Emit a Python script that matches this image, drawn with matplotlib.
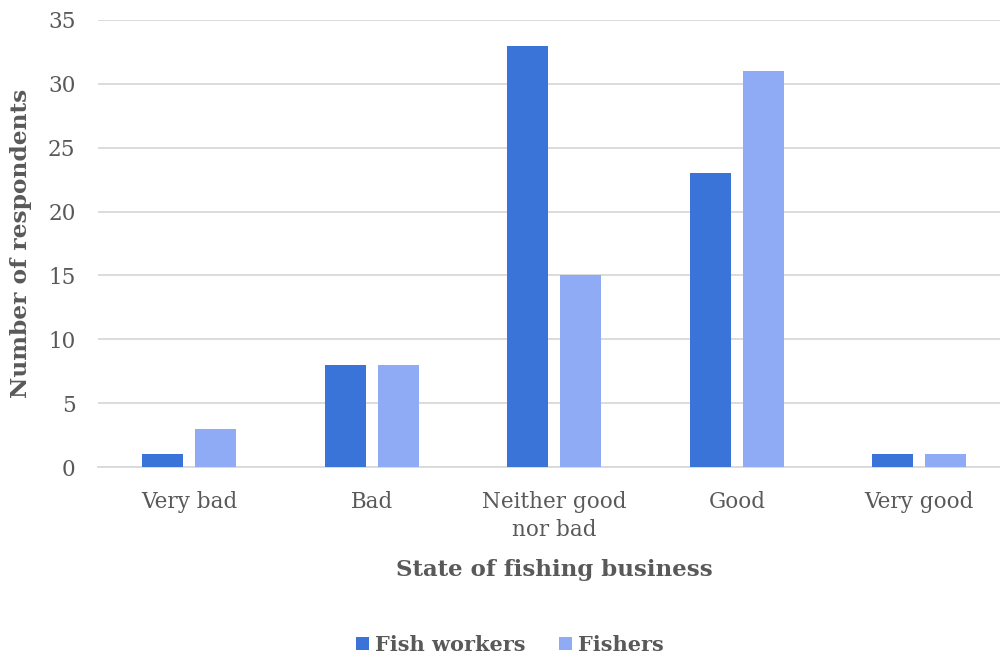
import matplotlib
matplotlib.use("Agg")
import matplotlib.pyplot as plt
import numpy as np

categories = ["Very bad", "Bad", "Neither good\nnor bad", "Good", "Very good"]
fish_workers = [1, 8, 33, 23, 1]
fishers = [3, 8, 15, 31, 1]
yticks = [0, 5, 10, 15, 20, 25, 30, 35]

dark_blue = "#3A74D8"
light_blue = "#8FABF6"
text_grey = "#595959"

plt.rcParams["font.family"] = ["DejaVu Serif"]

fig = plt.figure(figsize=(10, 6.59), dpi=100)
ax = fig.add_axes([0.0977, 1 - 467 / 659, 0.913, 447 / 659])

x = np.arange(len(categories))
w = 0.225
off = 0.145
ax.bar(x - off, fish_workers, w, color=dark_blue, label="Fish workers", zorder=3)
ax.bar(x + off, fishers, w, color=light_blue, label="Fishers", zorder=3)

ax.set_xlim(-0.5, len(categories) - 0.5)
ax.set_ylim(0, 35)
ax.set_yticks(yticks)
ax.grid(axis="y", color="#D9D9D9", linewidth=1.3, zorder=0)
ax.set_axisbelow(True)
for s in ["top", "right", "left"]:
    ax.spines[s].set_visible(False)
ax.spines["bottom"].set_color("#D9D9D9")
ax.spines["bottom"].set_linewidth(1.3)
ax.tick_params(axis="both", length=0, colors=text_grey, labelsize=15.5)
ax.tick_params(axis="y", pad=16)
ax.tick_params(axis="x", pad=17)
ax.set_xticks(x)
ax.set_xticklabels(categories, linespacing=1.35)

ax.set_ylabel("Number of respondents", fontsize=16.8, fontweight="bold",
              color=text_grey)
ax.yaxis.set_label_coords(-(97.7 - 32) / 913, (467 - 243) / 447)
ax.set_xlabel("State of fishing business", fontsize=16.5, fontweight="bold",
              color=text_grey)
ax.xaxis.set_label_coords((554 - 97.7) / 913, -(559 - 467) / 447)

leg = fig.legend(loc="center", bbox_to_anchor=(0.51, 1 - 645 / 659), ncol=2,
                 frameon=False, fontsize=15, handlelength=0.6, handleheight=0.6,
                 columnspacing=1.6, handletextpad=0.3)
for t in leg.get_texts():
    t.set_color(text_grey)
    t.set_fontweight("heavy")

fig.savefig("out.png", dpi=100)
